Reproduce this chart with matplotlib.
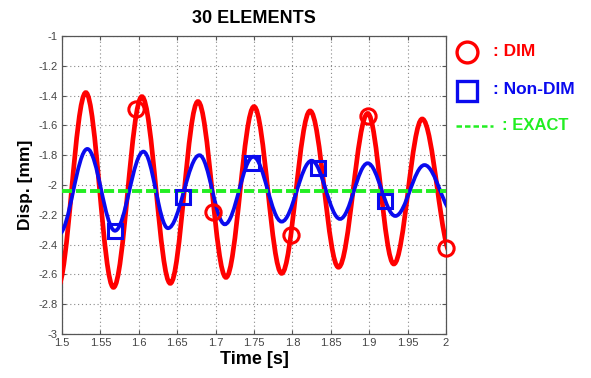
import matplotlib.pyplot as plt
from matplotlib.path import Path
from matplotlib.patches import PathPatch
import numpy as np

# peaks/troughs of the two responses (first/last lie just outside the axis)
dim_t = [1.494, 1.531, 1.567, 1.604, 1.641, 1.677, 1.7135, 1.750, 1.786, 1.823, 1.860, 1.898, 1.932, 1.969, 2.008]
dim_y = [-2.69, -1.38, -2.687, -1.407, -2.66, -1.44, -2.62, -1.474, -2.593, -1.503, -2.552, -1.52, -2.53, -1.557, -2.48]
nondim_t = [1.496, 1.533, 1.569, 1.606, 1.638, 1.679, 1.712, 1.749, 1.786, 1.825, 1.862, 1.898, 1.934, 1.972, 2.012]
nondim_y = [-2.33, -1.758, -2.307, -1.776, -2.29, -1.80, -2.264, -1.81, -2.246, -1.837, -2.228, -1.854, -2.208, -1.866, -2.20]

# marker samples
dim_mk_t = [1.597, 1.697, 1.798, 1.898, 2.0]
dim_mk_y = [-1.49, -2.18, -2.336, -1.54, -2.42]
nondim_mk_t = [1.569, 1.658, 1.748, 1.833, 1.92]
nondim_mk_y = [-2.307, -2.083, -1.854, -1.888, -2.105]

exact_y = -2.04

xticks = np.arange(1.5, 2.0001, 0.05)
yticks = np.arange(-3, -0.999, 0.2)

RED = "#ff0000"
BLUE = "#0a0aee"
GREEN = "#22ee22"
FONT = "Liberation Sans"


def smooth_path(ts, ys, k=0.363):
    # cubic bezier between successive extrema, flat tangents at each extremum
    verts = [(ts[0], ys[0])]
    codes = [Path.MOVETO]
    for i in range(len(ts) - 1):
        dt = ts[i + 1] - ts[i]
        verts += [(ts[i] + k * dt, ys[i]), (ts[i + 1] - k * dt, ys[i + 1]), (ts[i + 1], ys[i + 1])]
        codes += [Path.CURVE4] * 3
    return Path(verts, codes)


fig = plt.figure(figsize=(5.91, 3.78), dpi=100, facecolor="white")
ax = fig.add_axes([0.1049, 0.1164, 0.6498, 0.7884])

ax.add_patch(PathPatch(smooth_path(dim_t, dim_y), fill=False, edgecolor=RED, lw=3.4, zorder=3))
ax.add_patch(PathPatch(smooth_path(nondim_t, nondim_y), fill=False, edgecolor=BLUE, lw=2.7, zorder=4))
ax.axhline(exact_y, color=GREEN, lw=2.8, linestyle=(0, (2.6, 1.0)), zorder=5)

ax.plot(dim_mk_t, dim_mk_y, linestyle="none", marker="o", ms=11, mfc="none", mec=RED, mew=2.2,
        zorder=6, clip_on=False)
ax.plot(nondim_mk_t, nondim_mk_y, linestyle="none", marker="s", ms=9.5, mfc="none", mec=BLUE, mew=2.2,
        zorder=6, clip_on=False)

ax.set_xlim(1.5, 2.0)
ax.set_ylim(-3, -1)
ax.set_xticks(xticks)
ax.set_xticklabels(["%g" % v for v in np.round(xticks, 2)])
ax.set_yticks(yticks)
ax.set_yticklabels(["%g" % v for v in np.round(yticks, 1)])
ax.tick_params(direction="in", length=3, width=0.8, colors="#555555", labelcolor="#444444",
               labelsize=8, top=True, right=True, pad=3)
for lab in ax.get_xticklabels() + ax.get_yticklabels():
    lab.set_family(FONT)
for s in ax.spines.values():
    s.set_color("#555555")
    s.set_linewidth(0.9)
ax.grid(True, color="#888888", linestyle=(0, (1, 2.5)), linewidth=0.8)

ax.set_title("30 ELEMENTS", fontsize=13, fontweight="bold", family=FONT, pad=9)
ax.set_xlabel("Time [s]", fontsize=13, fontweight="bold", family=FONT, labelpad=2)
ax.set_ylabel("Disp. [mm]", fontsize=12.5, fontweight="bold", family=FONT, labelpad=4)

# legend drawn by hand at the right side
fig.lines.append(plt.Line2D([467.5 / 591], [1 - 51.5 / 378], transform=fig.transFigure, marker="o",
                            ms=15, mfc="none", mec=RED, mew=2.4, linestyle="none"))
fig.lines.append(plt.Line2D([467.5 / 591], [1 - 90.5 / 378], transform=fig.transFigure, marker="s",
                            ms=15, mfc="none", mec=BLUE, mew=2.4, linestyle="none"))
fig.lines.append(plt.Line2D([456 / 591, 493 / 591], [1 - 126 / 378] * 2, transform=fig.transFigure,
                            color=GREEN, lw=1.8, linestyle=(0, (2.2, 1.2))))
fig.text(493 / 591, 1 - 51 / 378, ": DIM", color=RED, fontsize=12.5, fontweight="bold", family=FONT, va="center")
fig.text(493 / 591, 1 - 89 / 378, ": Non-DIM", color=BLUE, fontsize=12.5, fontweight="bold", family=FONT, va="center")
fig.text(502 / 591, 1 - 126 / 378, ": EXACT", color=GREEN, fontsize=12, fontweight="bold", family=FONT, va="center")

fig.savefig("out.png", dpi=100, facecolor="white")
